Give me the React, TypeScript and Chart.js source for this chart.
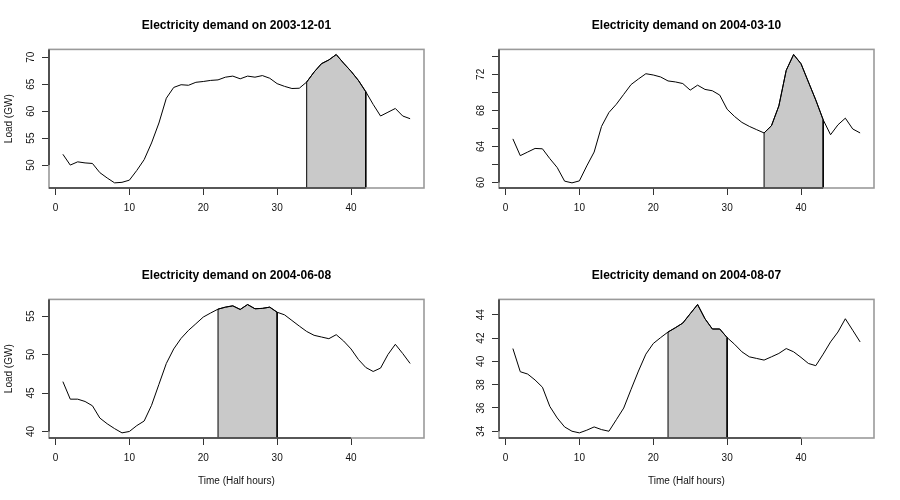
import React, { useEffect, useRef } from "react";
import { Chart, registerables } from "chart.js";

Chart.register(...registerables);

// ---- data ----
const halfHours = [
  1, 2, 3, 4, 5, 6, 7, 8, 9, 10, 11, 12, 13, 14, 15, 16, 17, 18, 19, 20, 21, 22, 23, 24,
  25, 26, 27, 28, 29, 30, 31, 32, 33, 34, 35, 36, 37, 38, 39, 40, 41, 42, 43, 44, 45, 46, 47, 48,
];

const load20031201 = [
  52.0, 50.0, 50.6, 50.4, 50.3, 48.6, 47.6, 46.7, 46.8, 47.2, 49.0, 51.0,
  54.1, 57.8, 62.4, 64.4, 64.9, 64.8, 65.35, 65.5, 65.7, 65.8, 66.3, 66.5,
  66.0, 66.5, 66.3, 66.6, 66.1, 65.1, 64.6, 64.2, 64.25, 65.4, 67.25, 68.8,
  69.5, 70.5, 68.9, 67.4, 65.7, 63.6, 61.25, 59.1, 59.8, 60.5, 59.1, 58.6,
];

const load20040310 = [
  64.84, 62.98, 63.38, 63.78, 63.74, 62.65, 61.66, 60.15, 59.96, 60.18, 61.84, 63.38,
  66.23, 67.77, 68.68, 69.78, 70.87, 71.49, 72.07, 71.93, 71.71, 71.27, 71.16, 70.98,
  70.25, 70.8, 70.33, 70.18, 69.7, 68.13, 67.33, 66.67, 66.23, 65.86, 65.5, 66.3,
  68.5, 72.45, 74.2, 73.18, 71.16, 69.15, 66.96, 65.3, 66.4, 67.14, 65.94, 65.5,
];

const load20040608 = [
  46.48, 44.2, 44.2, 43.9, 43.34, 41.75, 41.0, 40.37, 39.82, 40.0, 40.76, 41.36,
  43.4, 46.13, 48.84, 50.73, 52.1, 53.14, 54.0, 54.87, 55.4, 55.9, 56.16, 56.33,
  55.86, 56.5, 55.95, 56.0, 56.16, 55.5, 55.16, 54.43, 53.7, 53.0, 52.5, 52.28,
  52.06, 52.58, 51.76, 50.73, 49.36, 48.32, 47.8, 48.24, 50.0, 51.33, 50.13, 48.84,
];

const load20040807 = [
  41.1, 39.11, 38.91, 38.4, 37.78, 36.13, 35.14, 34.37, 34.0, 33.86, 34.09, 34.37,
  34.14, 34.0, 34.99, 35.99, 37.6, 39.17, 40.62, 41.53, 42.04, 42.52, 42.89, 43.29,
  44.09, 44.88, 43.66, 42.78, 42.78, 42.04, 41.47, 40.82, 40.39, 40.25, 40.11, 40.39,
  40.68, 41.1, 40.82, 40.34, 39.82, 39.63, 40.62, 41.67, 42.52, 43.66, 42.67, 41.67,
];

const panelTitles = [
  "Electricity demand on 2003-12-01",
  "Electricity demand on 2004-03-10",
  "Electricity demand on 2004-06-08",
  "Electricity demand on 2004-08-07",
];
const panelLoads = [load20031201, load20040310, load20040608, load20040807];
const shadeStart = [34, 35, 22, 22];
const shadeEnd = [42, 43, 30, 30];
const yTickStep = [5, 2, 5, 2];
const yLabelStep = [5, 4, 5, 2];
const xTickStep = 10;
const yAxisTitle = "Load (GW)";
const xAxisTitle = "Time (Half hours)";

const FONT = "'Liberation Sans', Arial, Helvetica, sans-serif";

function Panel({ idx }: { idx: number }) {
  const ref = useRef<HTMLCanvasElement | null>(null);

  useEffect(() => {
    if (!ref.current) return;
    const load = panelLoads[idx];
    const dMin = Math.min(...load);
    const dMax = Math.max(...load);
    const yMin = dMin - 0.04 * (dMax - dMin);
    const yMax = dMax + 0.04 * (dMax - dMin);
    const hMin = halfHours[0];
    const hMax = halfHours[halfHours.length - 1];
    const xMin = hMin - 0.04 * (hMax - hMin);
    const xMax = hMax + 0.04 * (hMax - hMin);

    const linePts = halfHours.map((h, i) => ({ x: h, y: load[i] }));
    const s = shadeStart[idx];
    const e = shadeEnd[idx];
    const polyPts = [
      { x: s, y: yMin },
      ...linePts.filter((p) => p.x >= s && p.x <= e),
      { x: e, y: yMin },
    ];

    const left = idx % 2 === 0;
    const bottom = idx >= 2;
    const yFirst = Math.ceil(yMin / yTickStep[idx]) * yTickStep[idx];

    const framePlugin = {
      id: "rframe",
      afterDraw(chart: any) {
        const { ctx, chartArea, scales } = chart;
        ctx.save();
        ctx.strokeStyle = "#9a9a9a";
        ctx.lineWidth = 1.6;
        ctx.strokeRect(chartArea.left, chartArea.top, chartArea.right - chartArea.left, chartArea.bottom - chartArea.top);
        ctx.strokeStyle = "#3a3a3a";
        ctx.lineWidth = 1.6;
        const xs = scales.x;
        const ys = scales.y;
        const xEnd = Math.max(xs.getPixelForValue(40), xs.getPixelForValue(e));
        ctx.beginPath();
        ctx.moveTo(chartArea.left, chartArea.bottom);
        ctx.lineTo(xEnd, chartArea.bottom);
        ctx.stroke();
        ctx.beginPath();
        ctx.moveTo(chartArea.left, ys.getPixelForValue(yFirst));
        ctx.lineTo(chartArea.left, chartArea.top);
        ctx.stroke();
        ctx.restore();
      },
    };

    const chart = new Chart(ref.current, {
      type: "line",
      data: {
        datasets: [
          {
            data: polyPts,
            borderColor: "#000",
            borderWidth: 1,
            backgroundColor: "#C9C9C9",
            fill: "start",
            pointRadius: 0,
            tension: 0,
            order: 2,
          },
          {
            data: linePts,
            borderColor: "#000",
            borderWidth: 1,
            fill: false,
            pointRadius: 0,
            tension: 0,
            order: 1,
          },
        ],
      },
      options: {
        animation: false,
        responsive: false,
        devicePixelRatio: 1,
        layout: { padding: { left: 0, right: 26, top: 0, bottom: 0 } },
        plugins: {
          legend: { display: false },
          tooltip: { enabled: false },
          title: {
            display: true,
            text: panelTitles[idx],
            color: "#000",
            font: { family: FONT, size: 12, weight: "bold" },
            fullSize: false,
            padding: { top: 18, bottom: 17 },
          },
        },
        scales: {
          x: {
            type: "linear",
            min: xMin,
            max: xMax,
            afterFit: (sc: any) => {
              sc.height = 62;
            },
            border: { display: false },
            grid: { drawOnChartArea: false, drawTicks: true, tickLength: 7, color: "#333", lineWidth: 1 },
            ticks: {
              stepSize: xTickStep,
              includeBounds: false,
              autoSkip: false,
              maxRotation: 0,
              minRotation: 0,
              padding: 7,
              color: "#111",
              font: { family: FONT, size: 10 },
            },
            title: {
              display: bottom,
              text: xAxisTitle,
              color: "#111",
              font: { family: FONT, size: 10 },
              padding: { top: 0, bottom: 13 },
            },
          },
          y: {
            type: "linear",
            min: yMin,
            max: yMax,
            afterFit: (sc: any) => {
              sc.width = 49;
            },
            border: { display: false },
            grid: { drawOnChartArea: false, drawTicks: true, tickLength: 7, color: "#333", lineWidth: 1 },
            ticks: {
              stepSize: yTickStep[idx],
              includeBounds: false,
              autoSkip: false,
              minRotation: 90,
              maxRotation: 90,
              crossAlign: "center",
              padding: 5,
              color: "#111",
              font: { family: FONT, size: 10 },
              callback: (v: any) => {
                const n = Number(v);
                const k = (n - yFirst) / yLabelStep[idx];
                return Math.abs(k - Math.round(k)) < 1e-6 ? String(Math.round(n)) : "";
              },
            },
            title: {
              display: left,
              text: yAxisTitle,
              color: "#111",
              font: { family: FONT, size: 10 },
              padding: { top: 3, bottom: 0 },
            },
          },
        },
      },
      plugins: [framePlugin],
    } as any);

    return () => chart.destroy();
  }, [idx]);

  return <canvas ref={ref} width={450} height={250} style={{ display: "block", width: 450, height: 250 }} />;
}

export default function App() {
  return (
    <div
      style={{
        position: "absolute",
        left: 0,
        top: 0,
        width: 900,
        height: 500,
        background: "#fff",
        display: "grid",
        gridTemplateColumns: "450px 450px",
        gridTemplateRows: "250px 250px",
      }}
    >
      {[0, 1, 2, 3].map((i) => (
        <Panel key={i} idx={i} />
      ))}
    </div>
  );
}
